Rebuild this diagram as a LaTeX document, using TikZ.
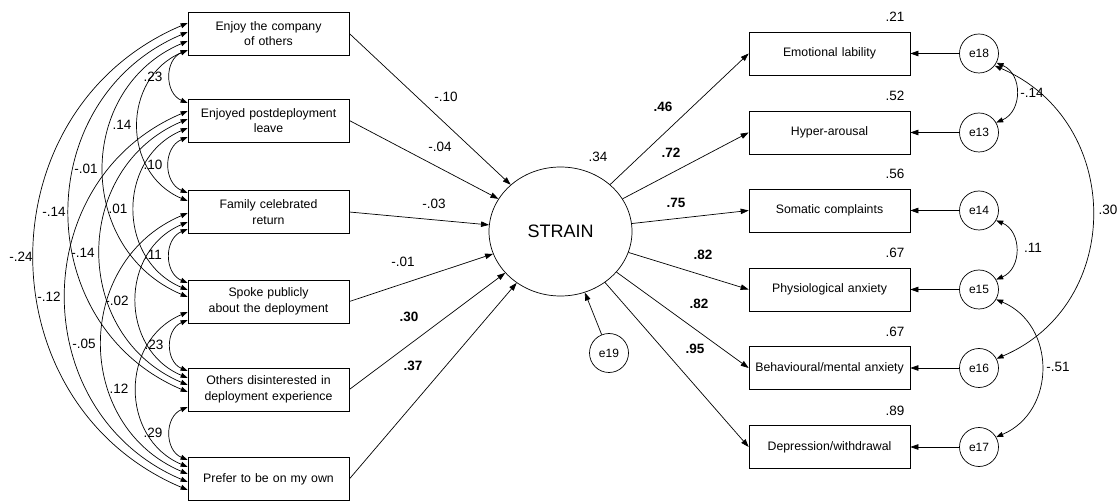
\documentclass[tikz,border=0pt]{standalone}
\usepackage{fontspec}
\setmainfont{Liberation Sans}
\usetikzlibrary{arrows.meta,shapes.geometric}

\begin{document}
\begin{tikzpicture}[x=1pt,y=-1pt,
  line width=0.7pt,
  box/.style={draw, rectangle, minimum width=161pt, minimum height=43pt,
    text width=157pt, inner sep=2pt, align=center,
    font=\fontsize{12.3}{15.5}\selectfont},
  latent/.style={draw, ellipse, minimum width=143pt, minimum height=129pt,
    inner sep=0pt, font=\fontsize{18}{20}\selectfont},
  err/.style={draw, circle, minimum size=39pt, inner sep=0pt,
    font=\fontsize{12}{14}\selectfont},
  lbl/.style={inner sep=0pt, font=\fontsize{13.5}{15}\selectfont},
  blbl/.style={inner sep=0pt, font=\fontsize{13.5}{15}\selectfont\bfseries},
  pth/.style={-{Triangle[length=8pt,width=5.5pt]}},
  cov/.style={{Triangle[length=7pt,width=5pt]}-{Triangle[length=7pt,width=5pt]},
    looseness=1.22},
  covL/.style={cov, out=203, in=157},
  covR/.style={cov, out=-23, in=23}
]
\useasboundingbox (0,0) rectangle (1119,502);

% exogenous indicators
\node[box] (l1) at (268.5,33.5)  {Enjoy the company\\of others};
\node[box] (l2) at (268.5,120.5) {Enjoyed postdeployment\\leave};
\node[box] (l3) at (268.5,212)   {Family celebrated\\return};
\node[box] (l4) at (268.5,301.5) {Spoke publicly\\about the deployment};
\node[box] (l5) at (268.5,389.5) {Others disinterested in\\deployment experience};
\node[box] (l6) at (268.5,479)   {Prefer to be on my own};

% latent factor and its disturbance
\node[latent] (strain) at (560.5,231.5) {STRAIN};
\node[err] (e19) at (609,353) {e19};

% outcome indicators
\node[box] (r1) at (829.5,53.5)  {Emotional lability};
\node[box] (r2) at (829.5,132.5) {Hyper-arousal};
\node[box] (r3) at (829.5,210.5) {Somatic complaints};
\node[box] (r4) at (829.5,289.5) {Physiological anxiety};
\node[box] (r5) at (829.5,368)   {Behavioural/mental anxiety};
\node[box] (r6) at (829.5,447)   {Depression/withdrawal};

% residuals
\node[err] (e18) at (979,53.5)  {e18};
\node[err] (e13) at (979,132.5) {e13};
\node[err] (e14) at (979,210.5) {e14};
\node[err] (e15) at (979,289.5) {e15};
\node[err] (e16) at (979,368)   {e16};
\node[err] (e17) at (979,447)   {e17};

% regression paths into STRAIN
\draw[pth] (l1.east) -- (strain);
\draw[pth] (l2.east) -- (strain);
\draw[pth] (l3.east) -- (strain);
\draw[pth] (l4.east) -- (strain);
\draw[pth] (l5.east) -- (strain);
\draw[pth] (l6.east) -- (strain);
\draw[pth] (e19) -- (strain);

\node[lbl]  at (446,97)  {-.10};
\node[lbl]  at (440,147) {-.04};
\node[lbl]  at (434,204) {-.03};
\node[lbl]  at (403,262) {-.01};
\node[blbl] at (409,317) {.30};
\node[blbl] at (413,366) {.37};
\node[lbl]  at (598,157) {.34};

% loadings
\draw[pth] (strain) -- (r1.west);
\draw[pth] (strain) -- (r2.west);
\draw[pth] (strain) -- (r3.west);
\draw[pth] (strain) -- (r4.west);
\draw[pth] (strain) -- (r5.west);
\draw[pth] (strain) -- (r6.west);

\node[blbl] at (663,107) {.46};
\node[blbl] at (671,153) {.72};
\node[blbl] at (676,203) {.75};
\node[blbl] at (703,255) {.82};
\node[blbl] at (699,304) {.82};
\node[blbl] at (695,349) {.95};

% residual paths and squared multiple correlations
\draw[pth] (e18) -- (r1.east);
\draw[pth] (e13) -- (r2.east);
\draw[pth] (e14) -- (r3.east);
\draw[pth] (e15) -- (r4.east);
\draw[pth] (e16) -- (r5.east);
\draw[pth] (e17) -- (r6.east);

\node[lbl] at (895,17)  {.21};
\node[lbl] at (895,96)  {.52};
\node[lbl] at (895,174) {.56};
\node[lbl] at (895,253) {.67};
\node[lbl] at (895,332) {.67};
\node[lbl] at (895,411) {.89};

% residual covariances
\draw[covR] (e18.-28) to (e13.30);
\draw[covR] (e18.-38) to (e16.28);
\draw[covR] (e14.-30) to (e15.30);
\draw[covR] (e15.-30) to (e17.30);

\node[lbl] at (1032,93)  {-.14};
\node[lbl] at (1108,210) {.30};
\node[lbl] at (1033,248) {.11};
\node[lbl] at (1058,367) {-.51};

% covariances among the exogenous indicators
\draw[covL] (l1.west |- 0,50)  to (l2.west |- 0,103);
\draw[covL] (l1.west |- 0,50)  to (l3.west |- 0,201);
\draw[covL] (l1.west |- 0,41)  to (l4.west |- 0,297);
\draw[covL] (l1.west |- 0,32)  to (l5.west |- 0,392);
\draw[covL] (l1.west |- 0,23)  to (l6.west |- 0,490);
\draw[covL] (l2.west |- 0,137) to (l3.west |- 0,193);
\draw[covL] (l2.west |- 0,128) to (l4.west |- 0,290);
\draw[covL] (l2.west |- 0,119) to (l5.west |- 0,385);
\draw[covL] (l2.west |- 0,111) to (l6.west |- 0,482);
\draw[covL] (l3.west |- 0,229) to (l4.west |- 0,283);
\draw[covL] (l3.west |- 0,222) to (l5.west |- 0,378);
\draw[covL] (l3.west |- 0,213) to (l6.west |- 0,474);
\draw[covL] (l4.west |- 0,320) to (l5.west |- 0,371);
\draw[covL] (l4.west |- 0,312) to (l6.west |- 0,467);
\draw[covL] (l5.west |- 0,407) to (l6.west |- 0,460);

\node[lbl] at (153,77)  {.23};
\node[lbl] at (122,125) {.14};
\node[lbl] at (86,169)  {-.01};
\node[lbl] at (54,212)  {-.14};
\node[lbl] at (21,257)  {-.24};
\node[lbl] at (153,165) {.10};
\node[lbl] at (118,209) {.01};
\node[lbl] at (83,253)  {-.14};
\node[lbl] at (49,297)  {-.12};
\node[lbl] at (153,255) {.11};
\node[lbl] at (117,301) {-.02};
\node[lbl] at (84,344)  {-.05};
\node[lbl] at (154,345) {.23};
\node[lbl] at (119,389) {.12};
\node[lbl] at (153,433) {.29};
\end{tikzpicture}
\end{document}
